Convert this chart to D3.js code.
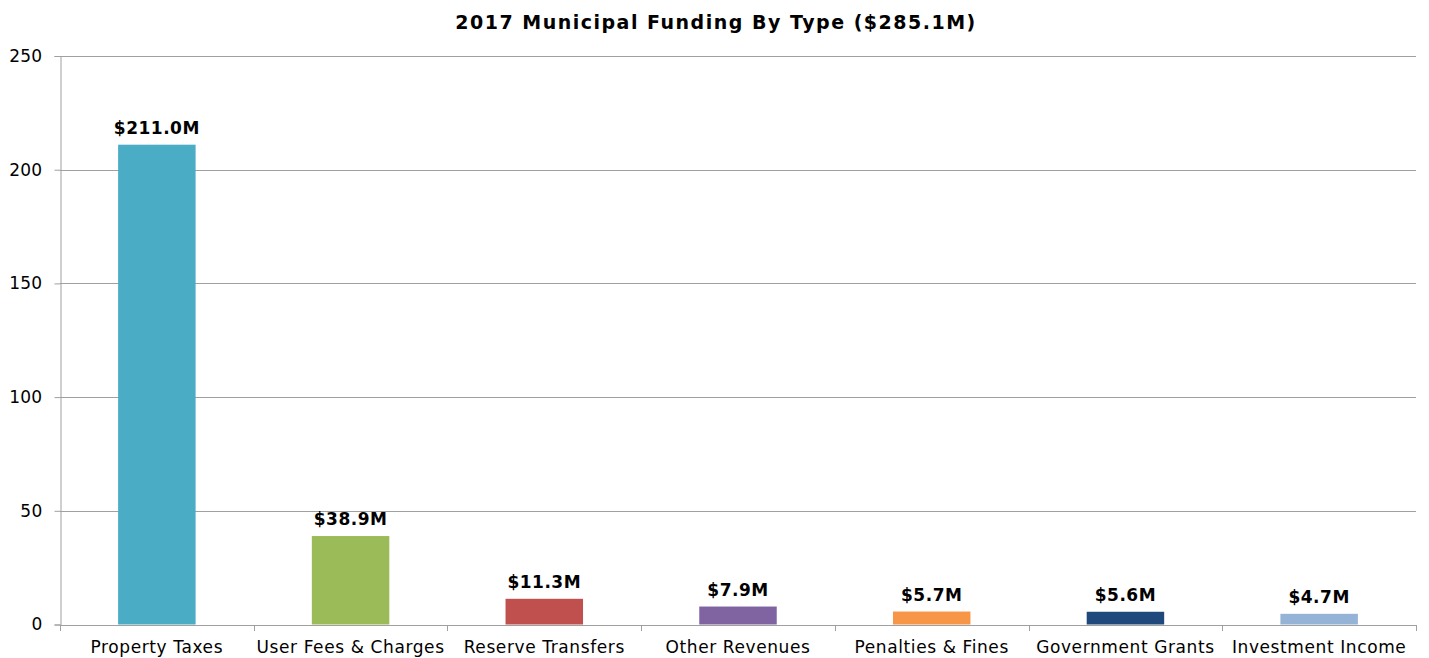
<!DOCTYPE html>
<html>
<head>
<meta charset="utf-8">
<script src="https://cdn.jsdelivr.net/npm/d3@7"></script>
<style>
  html, body { margin: 0; padding: 0; background: #fff; }
  svg text { font-family: "DejaVu Sans", Verdana, sans-serif; }
</style>
</head>
<body>
<svg id="chart" width="1429" height="658"></svg>
<script>
// Funding sources, in millions of dollars
const categories = ["Property Taxes", "User Fees & Charges", "Reserve Transfers", "Other Revenues",
                    "Penalties & Fines", "Government Grants", "Investment Income"];
const values = [211.0, 38.9, 11.3, 7.9, 5.7, 5.6, 4.7];
const valueLabels = ["$211.0M", "$38.9M", "$11.3M", "$7.9M", "$5.7M", "$5.6M", "$4.7M"];
const barColors = ["#4BACC6", "#9BBB59", "#C0504D", "#8064A2", "#F79646", "#1F497D", "#95B3D7"];
const yTicks = [0, 50, 100, 150, 200, 250];
const title = "2017 Municipal Funding By Type ($285.1M)";

const svg = d3.select("#chart");
const margin = { left: 60, right: 13, top: 56, bottom: 33 };
const W = 1429, H = 658;
const x0 = margin.left, x1 = W - margin.right;
const yTop = margin.top, yBot = H - margin.bottom - 0.5;

const x = d3.scaleBand().domain(categories).range([x0, x1]).paddingInner(0.6).paddingOuter(0.3);
const xEdges = d3.scaleBand().domain(categories).range([x0, x1]).padding(0);
const y = d3.scaleLinear().domain([0, 250]).range([yBot, yTop]);

const gridColor = "#A0A0A0";

// horizontal gridlines
svg.append("g")
  .selectAll("line")
  .data(yTicks.filter(t => t > 0))
  .join("line")
  .attr("x1", x0).attr("x2", x1)
  .attr("y1", d => Math.round(y(d)) + 0.5).attr("y2", d => Math.round(y(d)) + 0.5)
  .attr("stroke", gridColor).attr("stroke-width", 1);

// y axis
const yAxis = d3.axisLeft(y).tickValues(yTicks).tickSize(6).tickPadding(12).tickFormat(d3.format("d"));
const gy = svg.append("g").attr("transform", `translate(${x0 + 0.5},0)`).call(yAxis);
gy.select(".domain").attr("stroke", gridColor);
gy.selectAll(".tick line").attr("stroke", gridColor);
gy.selectAll(".tick text").attr("font-size", 17).attr("fill", "#000")
  .style("font-family", "'DejaVu Sans', Verdana, sans-serif")
  .style("letter-spacing", "0.3px");

// bars
svg.append("g")
  .selectAll("rect")
  .data(categories)
  .join("rect")
  .attr("x", d => x(d))
  .attr("width", x.bandwidth())
  .attr("y", (d, i) => y(values[i]))
  .attr("height", (d, i) => yBot - y(values[i]))
  .attr("fill", (d, i) => barColors[i]);

// x axis baseline and boundary ticks
const gx = svg.append("g");
gx.append("line")
  .attr("x1", x0).attr("x2", x1)
  .attr("y1", Math.round(yBot) + 0.5).attr("y2", Math.round(yBot) + 0.5)
  .attr("stroke", gridColor);
const edges = categories.map(c => xEdges(c)).concat([x1]);
gx.selectAll("line.edge")
  .data(edges)
  .join("line")
  .attr("class", "edge")
  .attr("x1", d => Math.round(d) + 0.5).attr("x2", d => Math.round(d) + 0.5)
  .attr("y1", Math.round(yBot)).attr("y2", Math.round(yBot) + 6)
  .attr("stroke", gridColor);
gx.selectAll("text")
  .data(categories)
  .join("text")
  .attr("x", d => xEdges(d) + xEdges.bandwidth() / 2)
  .attr("y", H - 5)
  .attr("text-anchor", "middle")
  .attr("font-size", 17)
  .attr("fill", "#000")
  .style("letter-spacing", "0.6px")
  .text(d => d);

// value labels
svg.append("g")
  .selectAll("text")
  .data(categories)
  .join("text")
  .attr("x", d => x(d) + x.bandwidth() / 2)
  .attr("y", (d, i) => y(values[i]) - 11)
  .attr("text-anchor", "middle")
  .attr("font-size", 17)
  .attr("font-weight", "bold")
  .attr("fill", "#000")
  .style("letter-spacing", "0.5px")
  .text((d, i) => valueLabels[i]);

// title
svg.append("text")
  .attr("x", 716)
  .attr("y", 29)
  .attr("text-anchor", "middle")
  .attr("font-size", 19)
  .attr("font-weight", "bold")
  .attr("fill", "#000")
  .style("letter-spacing", "1.5px")
  .text(title);
</script>
</body>
</html>
